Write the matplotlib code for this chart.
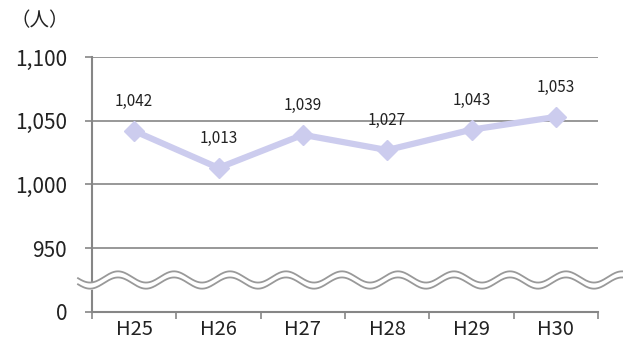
import numpy as np
import matplotlib
matplotlib.use("Agg")
import matplotlib.pyplot as plt
import matplotlib.transforms as mtransforms

plt.rcParams['font.family'] = ['Noto Sans CJK JP', 'DejaVu Sans']

# data
years = ["H25", "H26", "H27", "H28", "H29", "H30"]
people = [1042, 1013, 1039, 1027, 1043, 1053]
y_ticks = [900, 950, 1000, 1050, 1100]
y_tick_labels = ["0", "950", "1,000", "1,050", "1,100"]

axis_col = "#868686"
line_col = "#CCCCEE"

fig = plt.figure(figsize=(6.23, 3.42), dpi=100)
ax = fig.add_axes([92 / 623, 1 - 312 / 342, (598 - 92) / 623, (312 - 57) / 342])

x = np.arange(len(years))
ax.plot(x, people, color=line_col, lw=4.5, marker="D", markersize=10, zorder=3)
for xi, v in zip(x, people):
    ax.annotate(f"{v:,}", (xi, v), xytext=(0, 21), textcoords="offset points",
                ha="center", va="center", fontsize=11, color="#222222")

ax.set_xlim(-0.5, len(years) - 0.5)
ax.set_ylim(900, 1100)
ax.set_yticks(y_ticks)
ax.set_yticklabels(y_tick_labels, fontsize=15, color="#222222")
ax.set_xticks(x)
ax.set_xticklabels(years, fontsize=14.5, color="#222222")
ax.set_xticks(np.arange(len(years) + 1) - 0.5, minor=True)
ax.tick_params(axis="x", which="major", length=0, pad=5)
ax.tick_params(axis="x", which="minor", length=5, width=1.2, color=axis_col)
ax.tick_params(axis="y", length=5, width=1.2, color=axis_col, pad=13)

for yv in y_ticks[1:]:
    ax.axhline(yv, color=axis_col, lw=1.2, zorder=1)
for s in ["top", "right"]:
    ax.spines[s].set_visible(False)
for s in ["left", "bottom"]:
    ax.spines[s].set_color(axis_col)
    ax.spines[s].set_linewidth(1.5)

# wavy axis break
trans = mtransforms.blended_transform_factory(fig.transFigure, ax.transData)
px = np.linspace(78, 623, 600)
wave = 4.4 * np.cos(2 * np.pi * (px - 90) / 56.0)
upper = 927.5 - wave
lower = 922.7 - wave
fx = px / 623
ax.fill_between(fx, lower, upper, color="white", transform=trans, clip_on=False, zorder=4)
ax.plot(fx, upper, color="#999999", lw=1.3, transform=trans, clip_on=False, zorder=5)
ax.plot(fx, lower, color="#999999", lw=1.3, transform=trans, clip_on=False, zorder=5)

fig.text(10 / 623, 1 - 21 / 342, "（人）", fontsize=14, va="center", ha="left", color="#222222")

fig.savefig("out.png", dpi=100)
